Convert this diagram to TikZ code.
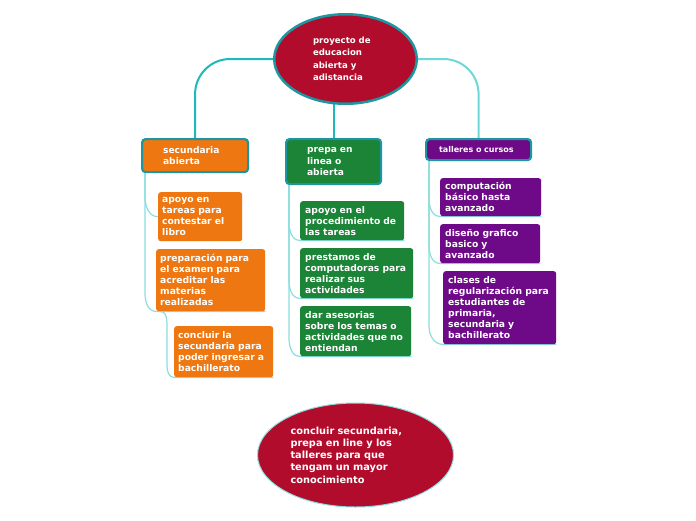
\documentclass[tikz,border=0pt]{standalone}
\usepackage{fontspec}
\setmainfont{DejaVu Sans}
\usetikzlibrary{shapes.geometric,calc}
\definecolor{crimson}{HTML}{B10C2B}
\definecolor{orangeb}{HTML}{EE7711}
\definecolor{greenb}{HTML}{1B8436}
\definecolor{purpleb}{HTML}{6E0A88}
\definecolor{tealborder}{HTML}{1E96A0}
\definecolor{tealline}{HTML}{1EB9B9}
\definecolor{teallight}{HTML}{6ED7D7}
\definecolor{subline}{HTML}{8CDEDE}
\pgfdeclarelayer{back}
\pgfdeclarelayer{bg}
\pgfsetlayers{back,bg,main}
\begin{document}
\begin{tikzpicture}[x=1pt,y=1pt,
  parentbox/.style={rectangle, rounded corners=3.5pt, draw=tealborder, line width=2.2pt,
    text=white, anchor=north west, align=left, inner ysep=0pt,
    font=\bfseries\fontsize{9.1}{11.3}\selectfont},
  childbox/.style={rectangle, rounded corners=2.5pt, text=white, anchor=north west,
    align=left, inner ysep=0pt, font=\bfseries\fontsize{9.2}{11}\selectfont},
  mainline/.style={draw=tealline, line width=2pt, rounded corners=35pt},
  subconn/.style={draw=subline, line width=1.2pt}
]
\begin{pgfonlayer}{back}
\fill[white] (0,0) rectangle (696,-520);
\end{pgfonlayer}
\useasboundingbox (0,0) rectangle (696,-520);

% root
\node[ellipse, fill=crimson, draw=tealborder, line width=2.5pt, text=white,
  minimum width=142.5pt, minimum height=89.5pt, inner sep=0pt, align=left,
  text width=65pt, font=\bfseries\fontsize{8.6}{12.5}\selectfont]
  (root) at (345.5,-59) {proyecto de\\educacion\\abierta y\\adistancia};

% parents
\node[parentbox, fill=orangeb, minimum width=106pt, minimum height=33pt,
  inner xsep=21pt, text width=64pt] (sec) at (141,-138) {secundaria\\abierta};
\node[parentbox, fill=greenb, minimum width=95pt, minimum height=45pt,
  inner xsep=21pt, text width=53pt] (prepa) at (285,-138) {prepa en\\linea o\\abierta};
\node[parentbox, fill=purpleb, minimum width=105pt, minimum height=21pt,
  inner xsep=13pt, text width=79pt, font=\bfseries\fontsize{8}{10}\selectfont]
  (tall) at (425,-138) {talleres o cursos};

% secundaria children
\node[childbox, fill=orangeb, minimum width=84pt, minimum height=49pt,
  inner xsep=4pt, text width=76pt] (s1) at (158,-192)
  {apoyo en\\tareas para\\contestar el\\libro};
\node[childbox, fill=orangeb, minimum width=109pt, minimum height=62pt,
  inner xsep=4pt, text width=101pt] (s2) at (156,-249)
  {preparación para\\el examen para\\acreditar las\\materias\\realizadas};
\node[childbox, fill=orangeb, minimum width=99pt, minimum height=51pt,
  inner xsep=4pt, text width=91pt] (s3) at (174,-326)
  {concluir la\\secundaria para\\poder ingresar a\\bachillerato};

% prepa children
\node[childbox, fill=greenb, minimum width=104pt, minimum height=39pt,
  inner xsep=5pt, text width=94pt] (p1) at (300,-201)
  {apoyo en el\\procedimiento de\\las tareas};
\node[childbox, fill=greenb, minimum width=113pt, minimum height=50pt,
  inner xsep=5pt, text width=103pt] (p2) at (300,-248)
  {prestamos de\\computadoras para\\realizar sus\\actividades};
\node[childbox, fill=greenb, minimum width=111pt, minimum height=50pt,
  inner xsep=5pt, text width=101pt] (p3) at (300,-306)
  {dar asesorias\\sobre los temas o\\actividades que no\\entiendan};

% talleres children
\node[childbox, fill=purpleb, minimum width=101pt, minimum height=38pt,
  inner xsep=5pt, text width=91pt] (t1) at (440,-178)
  {computación\\básico hasta\\avanzado};
\node[childbox, fill=purpleb, minimum width=100pt, minimum height=39pt,
  inner xsep=5pt, text width=90pt] (t2) at (440,-224)
  {diseño grafico\\basico y\\avanzado};
\node[childbox, fill=purpleb, minimum width=113pt, minimum height=73pt,
  inner xsep=5pt, text width=103pt] (t3) at (443,-271)
  {clases de\\regularización para\\estudiantes de\\primaria,\\secundaria y\\bachillerato};

% bottom ellipse
\node[ellipse, fill=crimson, draw=subline, line width=1pt, text=white,
  minimum width=196pt, minimum height=104pt, inner sep=0pt, align=left,
  text width=130pt, font=\bfseries\fontsize{9.8}{12.3}\selectfont]
  (concl) at (355.5,-455)
  {concluir secundaria,\\prepa en line y los\\talleres para que\\tengam un mayor\\conocimiento};

\begin{pgfonlayer}{bg}
  % main connectors
  \draw[mainline] (root.west) -| (sec.north);
  \draw[mainline] (root.center -| prepa.north) -- (prepa.north);
  \draw[mainline, draw=teallight] (root.east) -| (tall.north);

  % secundaria children
  \draw[subconn] ($(sec.south west)+(4,0)$) -- ($(sec.south west |- s1.west)+(4,20)$)
    to[out=-90,in=180] (s1.west);
  \draw[subconn] ($(sec.south west)+(4,0)$) -- ($(sec.south west |- s2.south west)+(4,18)$)
    to[out=-90,in=180] (s2.south west) -- (s2.south east);
  \draw[subconn] ($(s2.south west)+(4,0)$) to[out=0,in=90] ($(s2.south west)+(11,-18)$)
    -- ($(s2.south west |- s3.south west)+(11,12)$)
    to[out=-90,in=180] (s3.south west) -- (s3.south east);

  % prepa children
  \foreach \c in {p1,p2,p3}{
    \draw[subconn] ($(prepa.south west)+(4,0)$) -- ($(prepa.south west |- \c.south west)+(4,18)$)
      to[out=-90,in=180] (\c.south west) -- (\c.south east);
  }
  % talleres children
  \foreach \c in {t1,t2,t3}{
    \draw[subconn] ($(tall.south west)+(4,0)$) -- ($(tall.south west |- \c.south west)+(4,18)$)
      to[out=-90,in=180] (\c.south west) -- (\c.south east);
  }
\end{pgfonlayer}
\end{tikzpicture}
\end{document}
